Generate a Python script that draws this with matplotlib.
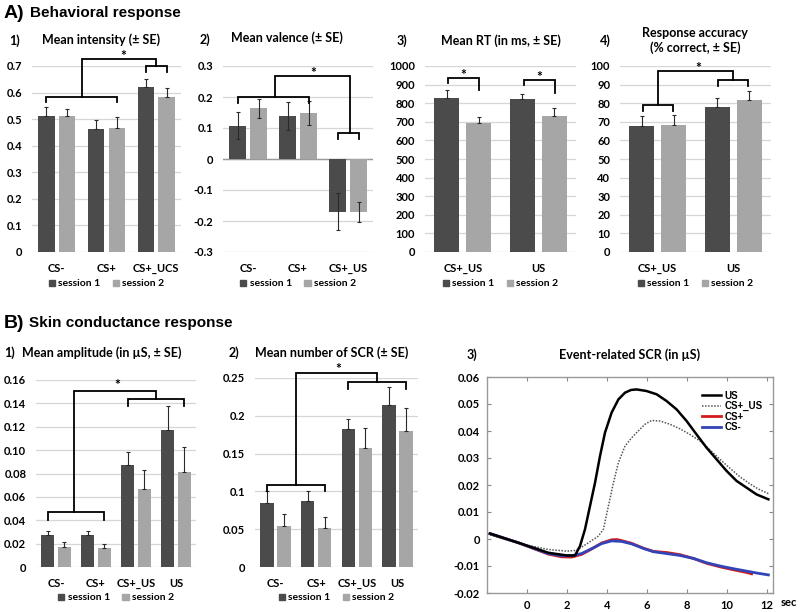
import numpy as np
import matplotlib
matplotlib.use("Agg")
import matplotlib.pyplot as plt
from matplotlib.patches import Patch

plt.rcParams["font.family"] = ["Lato", "DejaVu Sans"]
plt.rcParams["font.weight"] = "bold"

W, H = 800, 612
DARK = "#4b4b4b"
LIGHT = "#a6a6a6"
BW = 0.33
OFF = 0.21

# ---- A1) mean intensity
int_cats = ["CS-", "CS+", "CS+_UCS"]
int_s1 = [0.512, 0.462, 0.620]
int_s2 = [0.510, 0.467, 0.585]
int_e1 = [0.032, 0.035, 0.030]
int_e2 = [0.027, 0.040, 0.032]
int_ticks = [0, 0.1, 0.2, 0.3, 0.4, 0.5, 0.6, 0.7]
int_labels = ["0", "0.1", "0.2", "0.3", "0.4", "0.5", "0.6", "0.7"]

# ---- A2) mean valence
val_cats = ["CS-", "CS+", "CS+_US"]
val_s1 = [0.108, 0.140, -0.170]
val_s2 = [0.163, 0.148, -0.170]
val_e1 = [0.043, 0.045, 0.060]
val_e2 = [0.030, 0.038, 0.032]
val_ticks = [-0.3, -0.2, -0.1, 0, 0.1, 0.2, 0.3]
val_labels = ["-0.3", "-0.2", "-0.1", "0", "0.1", "0.2", "0.3"]

# ---- A3) mean RT
rt_cats = ["CS+_US", "US"]
rt_s1 = [830, 822]
rt_s2 = [692, 733]
rt_e1 = [40, 30]
rt_e2 = [36, 40]
rt_ticks = list(range(0, 1001, 100))
rt_labels = [str(t) for t in rt_ticks]

# ---- A4) response accuracy
acc_cats = ["CS+_US", "US"]
acc_s1 = [68.0, 78.0]
acc_s2 = [68.5, 81.5]
acc_e1 = [5.0, 5.0]
acc_e2 = [5.2, 5.0]
acc_ticks = list(range(0, 101, 10))
acc_labels = [str(t) for t in acc_ticks]

# ---- B1) mean amplitude
amp_cats = ["CS-", "CS+", "CS+_US", "US"]
amp_s1 = [0.027, 0.027, 0.087, 0.117]
amp_s2 = [0.017, 0.016, 0.067, 0.081]
amp_e1 = [0.004, 0.004, 0.011, 0.021]
amp_e2 = [0.004, 0.004, 0.016, 0.022]
amp_ticks = [0, 0.02, 0.04, 0.06, 0.08, 0.10, 0.12, 0.14, 0.16]
amp_labels = ["0", "0.02", "0.04", "0.06", "0.08", "0.10", "0.12", "0.14", "0.16"]

# ---- B2) mean number of SCR
num_cats = ["CS-", "CS+", "CS+_US", "US"]
num_s1 = [0.085, 0.087, 0.183, 0.214]
num_s2 = [0.054, 0.051, 0.158, 0.180]
num_e1 = [0.015, 0.014, 0.013, 0.024]
num_e2 = [0.016, 0.015, 0.026, 0.030]
num_ticks = [0, 0.05, 0.1, 0.15, 0.2, 0.25]
num_labels = ["0", "0.05", "0.1", "0.15", "0.2", "0.25"]

# ---- B3) event-related SCR curves
us_t = [-1.85, -0.43, 1.07, 2.0, 2.4, 2.65, 2.9, 3.15, 3.4, 3.65, 3.9, 4.23, 4.57,
        4.9, 5.2, 5.48, 5.98, 6.48, 6.98, 7.48, 7.98, 8.48, 8.98, 9.48, 9.98,
        10.48, 10.98, 11.48, 12.07]
us_y = [0.0020, -0.0014, -0.0051, -0.0061, -0.0061, -0.0026, 0.0036, 0.0122, 0.0208,
        0.0307, 0.0394, 0.0468, 0.0517, 0.0542, 0.0552, 0.0554, 0.0548, 0.0536,
        0.0511, 0.0480, 0.0437, 0.0387, 0.0338, 0.0295, 0.0252, 0.0215, 0.0190,
        0.0165, 0.0147]
csus_t = [-1.85, -0.43, 1.07, 2.0, 2.48, 3.07, 3.57, 3.82, 4.07, 4.32, 4.57, 4.9,
          5.2, 5.48, 5.9, 6.23, 6.65, 7.15, 7.65, 8.15, 8.65, 9.15, 9.65, 10.15,
          10.65, 11.15, 11.57, 12.07]
csus_y = [0.0015, -0.0016, -0.0039, -0.0045, -0.0042, -0.0014, 0.0011, 0.0036, 0.0122,
          0.0208, 0.0283, 0.0344, 0.0372, 0.0394, 0.0425, 0.0439, 0.0437, 0.0425,
          0.0408, 0.0387, 0.0363, 0.0330, 0.0295, 0.0262, 0.0230, 0.0204, 0.0185,
          0.0168]
csp_t = [-1.85, -0.43, 1.07, 1.73, 2.23, 2.73, 3.23, 3.73, 4.23, 4.5, 4.73, 5.23,
         5.82, 6.32, 6.98, 7.65, 8.32, 8.98, 9.65, 10.32, 10.98, 11.23]
csp_y = [0.0020, -0.0014, -0.0056, -0.0066, -0.0067, -0.0057, -0.0037, -0.0015,
         -0.0003, -0.0002, -0.0006, -0.0016, -0.0034, -0.0046, -0.0050, -0.0058,
         -0.0072, -0.0090, -0.0103, -0.0114, -0.0124, -0.0129]
csm_t = [-1.85, -0.43, 1.07, 1.73, 2.23, 2.73, 3.23, 3.73, 4.23, 4.73, 5.23, 5.82,
         6.32, 6.98, 7.65, 8.32, 8.98, 9.65, 10.32, 10.98, 11.48, 12.07]
csm_y = [0.0020, -0.0014, -0.0054, -0.0062, -0.0062, -0.0054, -0.0036, -0.0017,
         -0.0007, -0.0009, -0.0018, -0.0035, -0.0047, -0.0054, -0.0061, -0.0072,
         -0.0088, -0.0100, -0.0110, -0.0119, -0.0126, -0.0133]
scr_yticks = [-0.02, -0.01, 0, 0.01, 0.02, 0.03, 0.04, 0.05, 0.06]
scr_ylabels = ["-0.02", "-0.01", "0", "0.01", "0.02", "0.03", "0.04", "0.05", "0.06"]
scr_xticks = [0, 2, 4, 6, 8, 10, 12]

TICK_FS = 8
TITLE_FS = 9

fig = plt.figure(figsize=(8, 6.12), dpi=100)


def ax_at(x0, y0, x1, y1):
    return fig.add_axes([x0 / W, 1 - y1 / H, (x1 - x0) / W, (y1 - y0) / H])


def ftext(x, y, s, **kw):
    fig.text(x / W, 1 - y / H, s, **kw)


def bar_panel(ax, cats, s1, s2, e1, e2, ticks, labels, sym=False, pad=8, leg_px=32):
    x = np.arange(len(cats))
    z = np.zeros(len(cats))
    ax.bar(x - OFF, s1, BW, color=DARK, zorder=2)
    ax.bar(x + OFF, s2, BW, color=LIGHT, zorder=2)
    ax.errorbar(x - OFF, s1, yerr=[e1 if sym else z, e1], fmt="none", ecolor="#2a2a2a",
                elinewidth=0.8, capsize=1.5, capthick=0.8, zorder=3)
    ax.errorbar(x + OFF, s2, yerr=[e2 if sym else z, e2], fmt="none", ecolor="#2a2a2a",
                elinewidth=0.8, capsize=1.5, capthick=0.8, zorder=3)
    ax.set_xlim(-0.5, len(cats) - 0.5)
    ax.set_ylim(ticks[0], ticks[-1])
    ax.set_yticks(ticks)
    ax.set_yticklabels(labels)
    ax.set_xticks(x)
    ax.set_xticklabels(cats)
    ax.grid(axis="y", color="#d6d6d6", lw=0.9)
    ax.set_axisbelow(True)
    for s in ax.spines.values():
        s.set_visible(False)
    ax.tick_params(axis="y", length=0, labelsize=TICK_FS, pad=7)
    ax.tick_params(axis="x", length=0, labelsize=TICK_FS, pad=pad)
    h_px = ax.get_position().height * H
    ax.legend(handles=[Patch(color=DARK), Patch(color=LIGHT)],
              labels=["session 1", "session 2"], loc="center",
              bbox_to_anchor=(0.5, -leg_px / h_px), ncol=2, frameon=False,
              handlelength=0.6, handleheight=0.6, handletextpad=0.3,
              columnspacing=1.2, prop={"size": 7.5, "weight": "bold"})


def sig(ax, brackets, conn=None, stars=()):
    kw = dict(color="black", lw=1.3, clip_on=False, zorder=5, solid_joinstyle="miter")
    for xl, xr, y, dl, dr in brackets:
        ax.plot([xl, xl, xr, xr], [y - dl, y, y, y - dr], **kw)
    if conn:
        xa, ya, xb, yb, yt = conn
        ax.plot([xa, xa, xb, xb], [ya, yt, yt, yb], **kw)
    for sx, sy in stars:
        ax.text(sx, sy, "*", ha="center", va="center", fontsize=10,
                fontweight="bold", clip_on=False)


# section headers
ftext(4, 13, "A)", fontsize=14, fontweight="bold", family="Liberation Sans", va="center")
ftext(30, 13, "Behavioral response", fontsize=11, fontweight="bold",
      family="Liberation Sans", va="center")
ftext(4, 323, "B)", fontsize=14, fontweight="bold", family="Liberation Sans", va="center")
ftext(29, 323, "Skin conductance response", fontsize=11, fontweight="bold",
      family="Liberation Sans", va="center")

# ---------- A1
ax = ax_at(32, 66, 181, 252)
bar_panel(ax, int_cats, int_s1, int_s2, int_e1, int_e2, int_ticks, int_labels)
sig(ax, [(-OFF, 1 + OFF, 0.584, 0.018, 0.018), (2 - OFF, 2 + OFF, 0.700, 0.022, 0.022)],
    (0.5, 0.584, 2.0, 0.700, 0.728), [(1.33, 0.738)])
ftext(9, 41, "1)", fontsize=TITLE_FS, va="center")
ftext(101, 40, "Mean intensity (± SE)", fontsize=TITLE_FS, ha="center", va="center")

# ---------- A2
ax = ax_at(223, 66, 373, 252)
bar_panel(ax, val_cats, val_s1, val_s2, val_e1, val_e2, val_ticks, val_labels, sym=True)
ax.axhline(0, color="#9a9a9a", lw=1.0, zorder=1)
sig(ax, [(-OFF, 1 + OFF, 0.200, 0.019, 0.019), (2 - OFF, 2 + OFF, 0.084, 0.018, 0.018)],
    (0.53, 0.200, 2.03, 0.084, 0.268), [(1.31, 0.278)])
ftext(200, 40, "2)", fontsize=TITLE_FS, va="center")
ftext(287, 38, "Mean valence (± SE)", fontsize=TITLE_FS, ha="center", va="center")

# ---------- A3
ax = ax_at(425, 66, 576, 252)
bar_panel(ax, rt_cats, rt_s1, rt_s2, rt_e1, rt_e2, rt_ticks, rt_labels)
sig(ax, [(-0.2, 0.21, 934, 24, 63), (0.81, 1.22, 925, 27, 72)],
    None, [(0.01, 950), (1.02, 942)])
ftext(397, 41, "3)", fontsize=TITLE_FS, va="center")
ftext(501, 41, "Mean RT (in ms, ± SE)", fontsize=TITLE_FS, ha="center", va="center")

# ---------- A4
ax = ax_at(620, 66, 771, 252)
bar_panel(ax, acc_cats, acc_s1, acc_s2, acc_e1, acc_e2, acc_ticks, acc_labels)
sig(ax, [(-0.2, 0.2, 79, 3, 3), (0.8, 1.2, 92.5, 3, 3)],
    (0.0, 79, 1.0, 92.5, 97.5), [(0.54, 98.8)])
ftext(600, 41, "4)", fontsize=TITLE_FS, va="center")
ftext(695, 33, "Response accuracy", fontsize=TITLE_FS, ha="center", va="center")
ftext(695, 48, "(% correct, ± SE)", fontsize=TITLE_FS, ha="center", va="center")

# ---------- B1
ax = ax_at(36, 380, 196, 567)
bar_panel(ax, amp_cats, amp_s1, amp_s2, amp_e1, amp_e2, amp_ticks, amp_labels,
          pad=8, leg_px=31)
sig(ax, [(-OFF, 1 + OFF, 0.047, 0.007, 0.007), (2 - OFF, 3 + OFF, 0.144, 0.006, 0.006)],
    (0.46, 0.047, 2.5, 0.144, 0.151), [(1.54, 0.156)])
ftext(4, 353, "1)", fontsize=TITLE_FS, va="center")
ftext(102, 353, "Mean amplitude (in µS, ± SE)", fontsize=TITLE_FS, ha="center", va="center")

# ---------- B2
ax = ax_at(255, 378, 418, 567)
bar_panel(ax, num_cats, num_s1, num_s2, num_e1, num_e2, num_ticks, num_labels,
          pad=8, leg_px=31)
sig(ax, [(-OFF, 1 + OFF, 0.108, 0.008, 0.008), (2 - OFF, 3 + OFF, 0.245, 0.009, 0.009)],
    (0.5, 0.108, 2.5, 0.245, 0.256), [(1.54, 0.262)])
ftext(229, 353, "2)", fontsize=TITLE_FS, va="center")
ftext(332, 353, "Mean number of SCR (± SE)", fontsize=TITLE_FS, ha="center", va="center")

# ---------- B3
ax = ax_at(487, 377, 773, 593)
ax.plot(us_t, us_y, color="black", lw=1.8, label="US", zorder=4)
ax.plot(csus_t, csus_y, color="#555555", lw=1.1, ls=(0, (1, 1)), label="CS+_US", zorder=3)
ax.plot(csp_t, csp_y, color="#d41c1c", lw=2.0, label="CS+", zorder=3)
ax.plot(csm_t, csm_y, color="#3344b8", lw=2.0, label="CS-", zorder=3)
ax.set_xlim(-2, 12.3)
ax.set_ylim(-0.02, 0.06)
ax.set_xticks(scr_xticks)
ax.set_yticks(scr_yticks)
ax.set_yticklabels(scr_ylabels)
ax.tick_params(direction="in", top=True, right=True, length=3, color="#888888",
               labelsize=TICK_FS, pad=5)
for s in ax.spines.values():
    s.set_color("#999999")
    s.set_linewidth(1.0)
ax.legend(loc="upper right", bbox_to_anchor=(0.98, 0.96), frameon=False,
          handlelength=2.0, handletextpad=0.3, labelspacing=0.05, borderpad=0,
          prop={"size": 7, "weight": "bold", "family": "Liberation Sans"})
ftext(467, 355, "3)", fontsize=TITLE_FS, va="center")
ftext(630, 355, "Event-related SCR (in µS)", fontsize=TITLE_FS, ha="center", va="center")
ftext(781, 603, "sec", fontsize=TICK_FS, va="center")

fig.savefig("out.png", dpi=100)
